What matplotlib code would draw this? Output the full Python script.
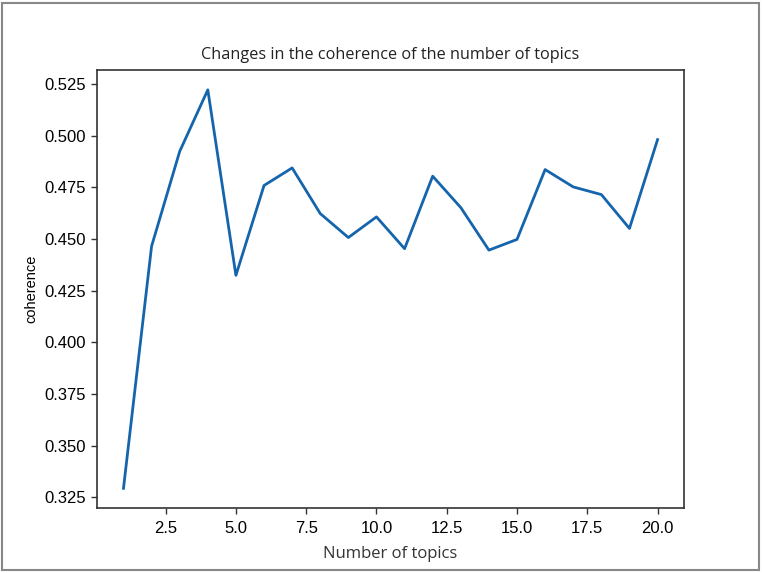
import matplotlib.pyplot as plt
from matplotlib.patches import Rectangle

# datos
num_topics = list(range(1, 21))
coherence = [0.3293, 0.4465, 0.4924, 0.5222, 0.4324, 0.4759, 0.4844, 0.4623,
             0.4507, 0.4607, 0.4453, 0.4804, 0.4652, 0.4446, 0.4498, 0.4836,
             0.4752, 0.4715, 0.4551, 0.4981]

fig = plt.figure(figsize=(7.62, 5.73), dpi=100)
ax = fig.add_axes([0.127, 0.113, 0.771, 0.765])

ax.plot(num_topics, coherence, color='#1565ad', linewidth=2.0)

ax.set_title('Changes in the coherence of the number of topics',
             family='Open Sans', fontsize=11.7, color='#222222', pad=8)
ax.set_xlabel('Number of topics', family='Open Sans', fontsize=12,
              color='#333333', labelpad=7)
ax.set_ylabel('coherence', family='Liberation Sans', fontsize=10.5)

for lab in ax.get_xticklabels() + ax.get_yticklabels():
    lab.set_family('Liberation Sans')
    lab.set_fontsize(12)
ax.tick_params(length=4.5, width=1, color='#333333')
ax.tick_params(axis='x', pad=5)
for s in ax.spines.values():
    s.set_color('#333333')
    s.set_linewidth(1.2)

# marco gris alrededor de la imagen
fig.patches.append(Rectangle((0.003, 0.005), 0.993, 0.99, transform=fig.transFigure,
                             fill=False, edgecolor='#888888', linewidth=1.5))

fig.savefig('out.png', dpi=100)
